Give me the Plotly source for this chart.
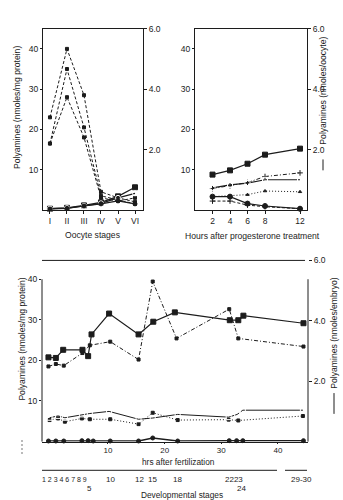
import plotly.graph_objects as go

W, H = 343, 500
INK = "#1c1c1c"
FONT = "Liberation Sans, Arial, Helvetica, sans-serif"

# ---------------- Panel A : oocyte stages ----------------
oocyte_stage_pos = [1, 2, 3, 4, 5, 6]
oocyte_stage_labels = ["I", "II", "III", "IV", "V", "VI"]
# per mg protein (left axis, dashed)
A_dash1 = [23.0, 40.0, 28.5, 4.5, 3.0, 2.0]
A_dash2 = [16.5, 35.0, 20.5, 3.5, 2.5, 1.5]
A_dash3 = [16.5, 28.0, 18.0, 3.0, 2.2, 3.0]
# per oocyte (right axis, solid)
A_sq = [0.04, 0.07, 0.15, 0.25, 0.45, 0.75]
A_open = [0.04, 0.06, 0.13, 0.22, 0.40, 0.55]
A_circ = [0.03, 0.05, 0.13, 0.20, 0.30, 0.20]

# ---------------- Panel B : hours after progesterone ----------------
B_hours = [2, 4, 6, 8, 12]
B_sq = [1.17, 1.31, 1.53, 1.83, 2.03]        # right axis, solid
B_open = [0.73, 0.83, 0.89, 1.00, 1.00]      # right axis, solid
B_circ = [0.44, 0.44, 0.21, 0.13, 0.04]      # right axis, solid
B_dash_plus = [5.3, 6.0, 6.8, 8.3, 9.2]      # left axis, dashed
B_dot_tri = [3.3, 3.5, 3.8, 4.7, 4.5]        # left axis, dotted
B_dash_small = [2.2, 2.2, 1.2, 0.8, 0.3]     # left axis, dashed

# ---------------- Panel C : hours after fertilization ----------------
C_sq_hrs = [-0.5, 0.8, 2.1, 5.5, 6.5, 7.1, 10.2, 15.4, 18.0, 21.8, 31.5, 33.0, 33.9, 44.5]
C_sq = [2.79, 2.77, 3.04, 3.04, 2.83, 3.55, 4.24, 3.55, 3.97, 4.28, 4.02, 4.02, 4.17, 3.92]
C_dd_hrs = [-0.5, 0.8, 2.2, 5.5, 6.8, 10.4, 15.4, 17.9, 22.1, 31.4, 33.0, 44.5]
C_dd = [18.5, 19.1, 18.7, 21.8, 23.7, 24.6, 20.2, 39.4, 25.4, 32.6, 25.4, 23.4]
C_open_hrs = [-0.3, 1.2, 2.4, 5.4, 6.8, 10.2, 15.4, 17.9, 22.3, 31.3, 32.8, 33.8, 44.4]
C_open = [0.79, 0.85, 0.79, 0.90, 0.93, 1.00, 0.74, 0.78, 0.90, 0.81, 0.90, 1.04, 1.04]
C_dot_hrs = [-0.3, 1.2, 2.4, 5.4, 6.8, 10.4, 15.4, 17.9, 22.3, 31.3, 33.0, 44.4]
C_dot = [5.3, 5.7, 4.9, 5.7, 5.5, 5.5, 4.3, 7.1, 5.3, 5.4, 5.2, 6.3]
C_circ_hrs = [-0.5, 0.8, 2.2, 5.4, 6.5, 7.4, 10.4, 15.4, 17.9, 22.3, 31.4, 32.7, 33.8, 44.5]
C_circ = [0.02, 0.02, 0.02, 0.03, 0.03, 0.02, 0.02, 0.02, 0.12, 0.02, 0.03, 0.03, 0.03, 0.03]

hrs_ticks = [10, 20, 30, 40]
left_ticks = [10, 20, 30, 40]
right_ticks = [2, 4, 6]
right_ticktext = ["2.0", "4.0", "6.0"]

stage_tick_hrs = [-0.76, 0.12, 1.89, 5.59, 6.48, 7.36, 10.36, 31.53, 33.82]
# (label, hours, row, font size)
stage_labels = [("1 2 3 4 6 7 8 9", 2.3, 0, 7), ("5", 6.7, 1, 8), ("10", 10.4, 0, 8),
                ("12", 15.5, 0, 8), ("15", 17.9, 0, 8), ("18", 22.2, 0, 8),
                ("2223", 32.2, 0, 8), ("24", 33.6, 1, 8), ("29-30", 44.2, 0, 8)]


def px(x):
    return x / W


def py(y):
    return 1 - y / H


fig = go.Figure()

DASH = "3px,2px"
DOT = "1px,2px"
DASHDOT = "4px,2px,1px,2px"


def add(x, y, xa, ya, dash, symbol, size, width=1.0, open_=False):
    fig.add_trace(go.Scatter(
        x=x, y=y, xaxis=xa, yaxis=ya, mode="lines+markers",
        line=dict(color=INK, width=width, dash=dash),
        marker=dict(symbol=symbol, size=size,
                    color="white" if open_ else INK,
                    line=dict(color=INK, width=1)),
        cliponaxis=False, showlegend=False, hoverinfo="skip"))


# Panel A
for s in (A_dash1, A_dash2, A_dash3):
    add(oocyte_stage_pos, s, "x", "y", DASH, "square", 3)
add(oocyte_stage_pos, A_sq, "x", "y2", "solid", "square", 5, 1.2)
add(oocyte_stage_pos, A_open, "x", "y2", "solid", "circle-open", 5, 1.2, True)
add(oocyte_stage_pos, A_circ, "x", "y2", "solid", "circle", 4, 1.2)

# Panel B
add(B_hours, B_dash_plus, "x2", "y3", DASHDOT, "cross-thin", 4)
add(B_hours, B_dot_tri, "x2", "y3", DOT, "triangle-up", 3)
add(B_hours, B_dash_small, "x2", "y3", DASH, "cross-thin", 4)
add(B_hours, B_sq, "x2", "y4", "solid", "square", 5, 1.2)
add(B_hours, B_open, "x2", "y4", "solid", "square-open", 5, 1.2, True)
add(B_hours, B_circ, "x2", "y4", "solid", "circle", 5, 1.2)

# Panel C
add(C_dd_hrs, C_dd, "x3", "y5", DASHDOT, "square", 3)
add(C_dot_hrs, C_dot, "x3", "y5", DOT, "square", 3)
add(C_sq_hrs, C_sq, "x3", "y6", "solid", "square", 5, 1.2)
add(C_open_hrs, C_open, "x3", "y6", "solid", "square-open", 5, 1.0, True)
add(C_circ_hrs, C_circ, "x3", "y6", "solid", "circle", 4, 1.4)

tf = dict(size=8.5, color=INK, family=FONT)


def axc(**kw):
    d = dict(showgrid=False, zeroline=False, linecolor=INK, linewidth=1,
             tickcolor=INK, tickwidth=1, tickfont=tf, ticks="outside")
    d.update(kw)
    return d


topdom = [py(207), py(24)]
A_dom = [px(43), px(143)]
B_dom = [px(195), px(307)]
C_dom = [px(42), px(308)]
Cy_dom = [py(441), py(258)]

fig.update_layout(
    width=W, height=H, margin=dict(l=0, r=0, t=0, b=0),
    paper_bgcolor="white", plot_bgcolor="white",
    font=dict(family=FONT, color=INK, size=8.6),
    xaxis=axc(domain=A_dom, anchor="y", range=[0.59, 6.47],
              tickvals=oocyte_stage_pos, ticktext=oocyte_stage_labels,
              showline=True, mirror=True, ticklen=3),
    yaxis=axc(domain=topdom, anchor="x", range=[0, 45], tickvals=left_ticks,
              showline=True, ticklen=2),
    yaxis2=axc(overlaying="y", side="right", anchor="x", range=[0, 6],
               tickvals=right_ticks, ticktext=right_ticktext, showline=True, ticklen=3),
    xaxis2=axc(domain=B_dom, anchor="y3", range=[0, 12.8], tickvals=B_hours,
               showline=True, mirror=True, ticklen=3),
    yaxis3=axc(domain=topdom, anchor="x2", range=[0, 45], tickvals=left_ticks,
               showline=True, ticklen=2),
    yaxis4=axc(overlaying="y3", side="right", anchor="x2", range=[0, 6],
               tickvals=right_ticks, ticktext=right_ticktext, showline=True, ticklen=3),
    xaxis3=axc(domain=C_dom, anchor="y5", range=[-1.64, 45.3], tickvals=hrs_ticks,
               showline=True, ticklen=1, tickfont=dict(size=8, color=INK, family=FONT)),
    yaxis5=axc(domain=Cy_dom, anchor="x3", range=[0, 44.6], tickvals=left_ticks,
               showline=False, ticklen=2),
    yaxis6=axc(overlaying="y5", side="right", anchor="x3", range=[0, 6],
               tickvals=right_ticks, ticktext=right_ticktext, showline=False, ticklen=3),
    xaxis4=axc(overlaying="x3", anchor="free", position=py(470), side="bottom",
               range=[-1.64, 45.3], tickvals=stage_tick_hrs, showticklabels=False,
               ticks="inside", ticklen=3, showline=False),
)

line = dict(color=INK, width=1)
shapes = [
    # panel C frame
    dict(type="line", xref="paper", yref="paper", x0=px(42), x1=px(305), y0=py(258), y1=py(258), line=line),
    dict(type="line", xref="paper", yref="paper", x0=px(42), x1=px(42), y0=py(277), y1=py(441), line=line),
    dict(type="line", xref="paper", yref="paper", x0=px(308), x1=px(308), y0=py(277), y1=py(441), line=line),
    # developmental-stage scale line (with small gap)
    dict(type="line", xref="paper", yref="paper", x0=px(42), x1=px(277), y0=py(470), y1=py(470), line=line),
    dict(type="line", xref="paper", yref="paper", x0=px(285), x1=px(307), y0=py(470), y1=py(470), line=line),
    # line-style keys next to axis titles
    dict(type="line", xref="paper", yref="paper", x0=px(323), x1=px(323), y0=py(156), y1=py(167), line=line),
    dict(type="line", xref="paper", yref="paper", x0=px(334), x1=px(334), y0=py(392), y1=py(413), line=line),
    dict(type="line", xref="paper", yref="paper", x0=px(22), x1=px(22), y0=py(440), y1=py(455),
         line=dict(color=INK, width=1.2, dash="1px,3px")),
]
fig.update_layout(shapes=shapes)

ann = []


def text(t, x, y, angle=0, size=8.6):
    ann.append(dict(text=t, x=px(x), y=py(y), xref="paper", yref="paper",
                    showarrow=False, textangle=angle, xanchor="center", yanchor="middle",
                    font=dict(size=size, color=INK, family=FONT)))


text("Polyamines (nmoles/mg protein)", 17, 104, -90)
text("Oocyte stages", 92, 232)
text("Hours after progesterone treatment", 252, 233)
text("Polyamines (nmoles/oocyte)", 323.5, 87, -90)
text("Polyamines (nmoles/mg protein)", 22, 338, -90)
text("Polyamines (nmoles/embryo)", 334, 332, -90)
text("hrs after fertilization", 178, 461.5, size=8.3)
text("Developmental stages", 182, 494.5, size=8.3)

for t, h, row, fs in stage_labels:
    ann.append(dict(text=t, x=h, xref="x3", y=py(479 + 9 * row), yref="paper",
                    showarrow=False, xanchor="center", yanchor="middle",
                    font=dict(size=fs, color=INK, family=FONT)))

fig.update_layout(annotations=ann)

fig.write_html("out.html")
